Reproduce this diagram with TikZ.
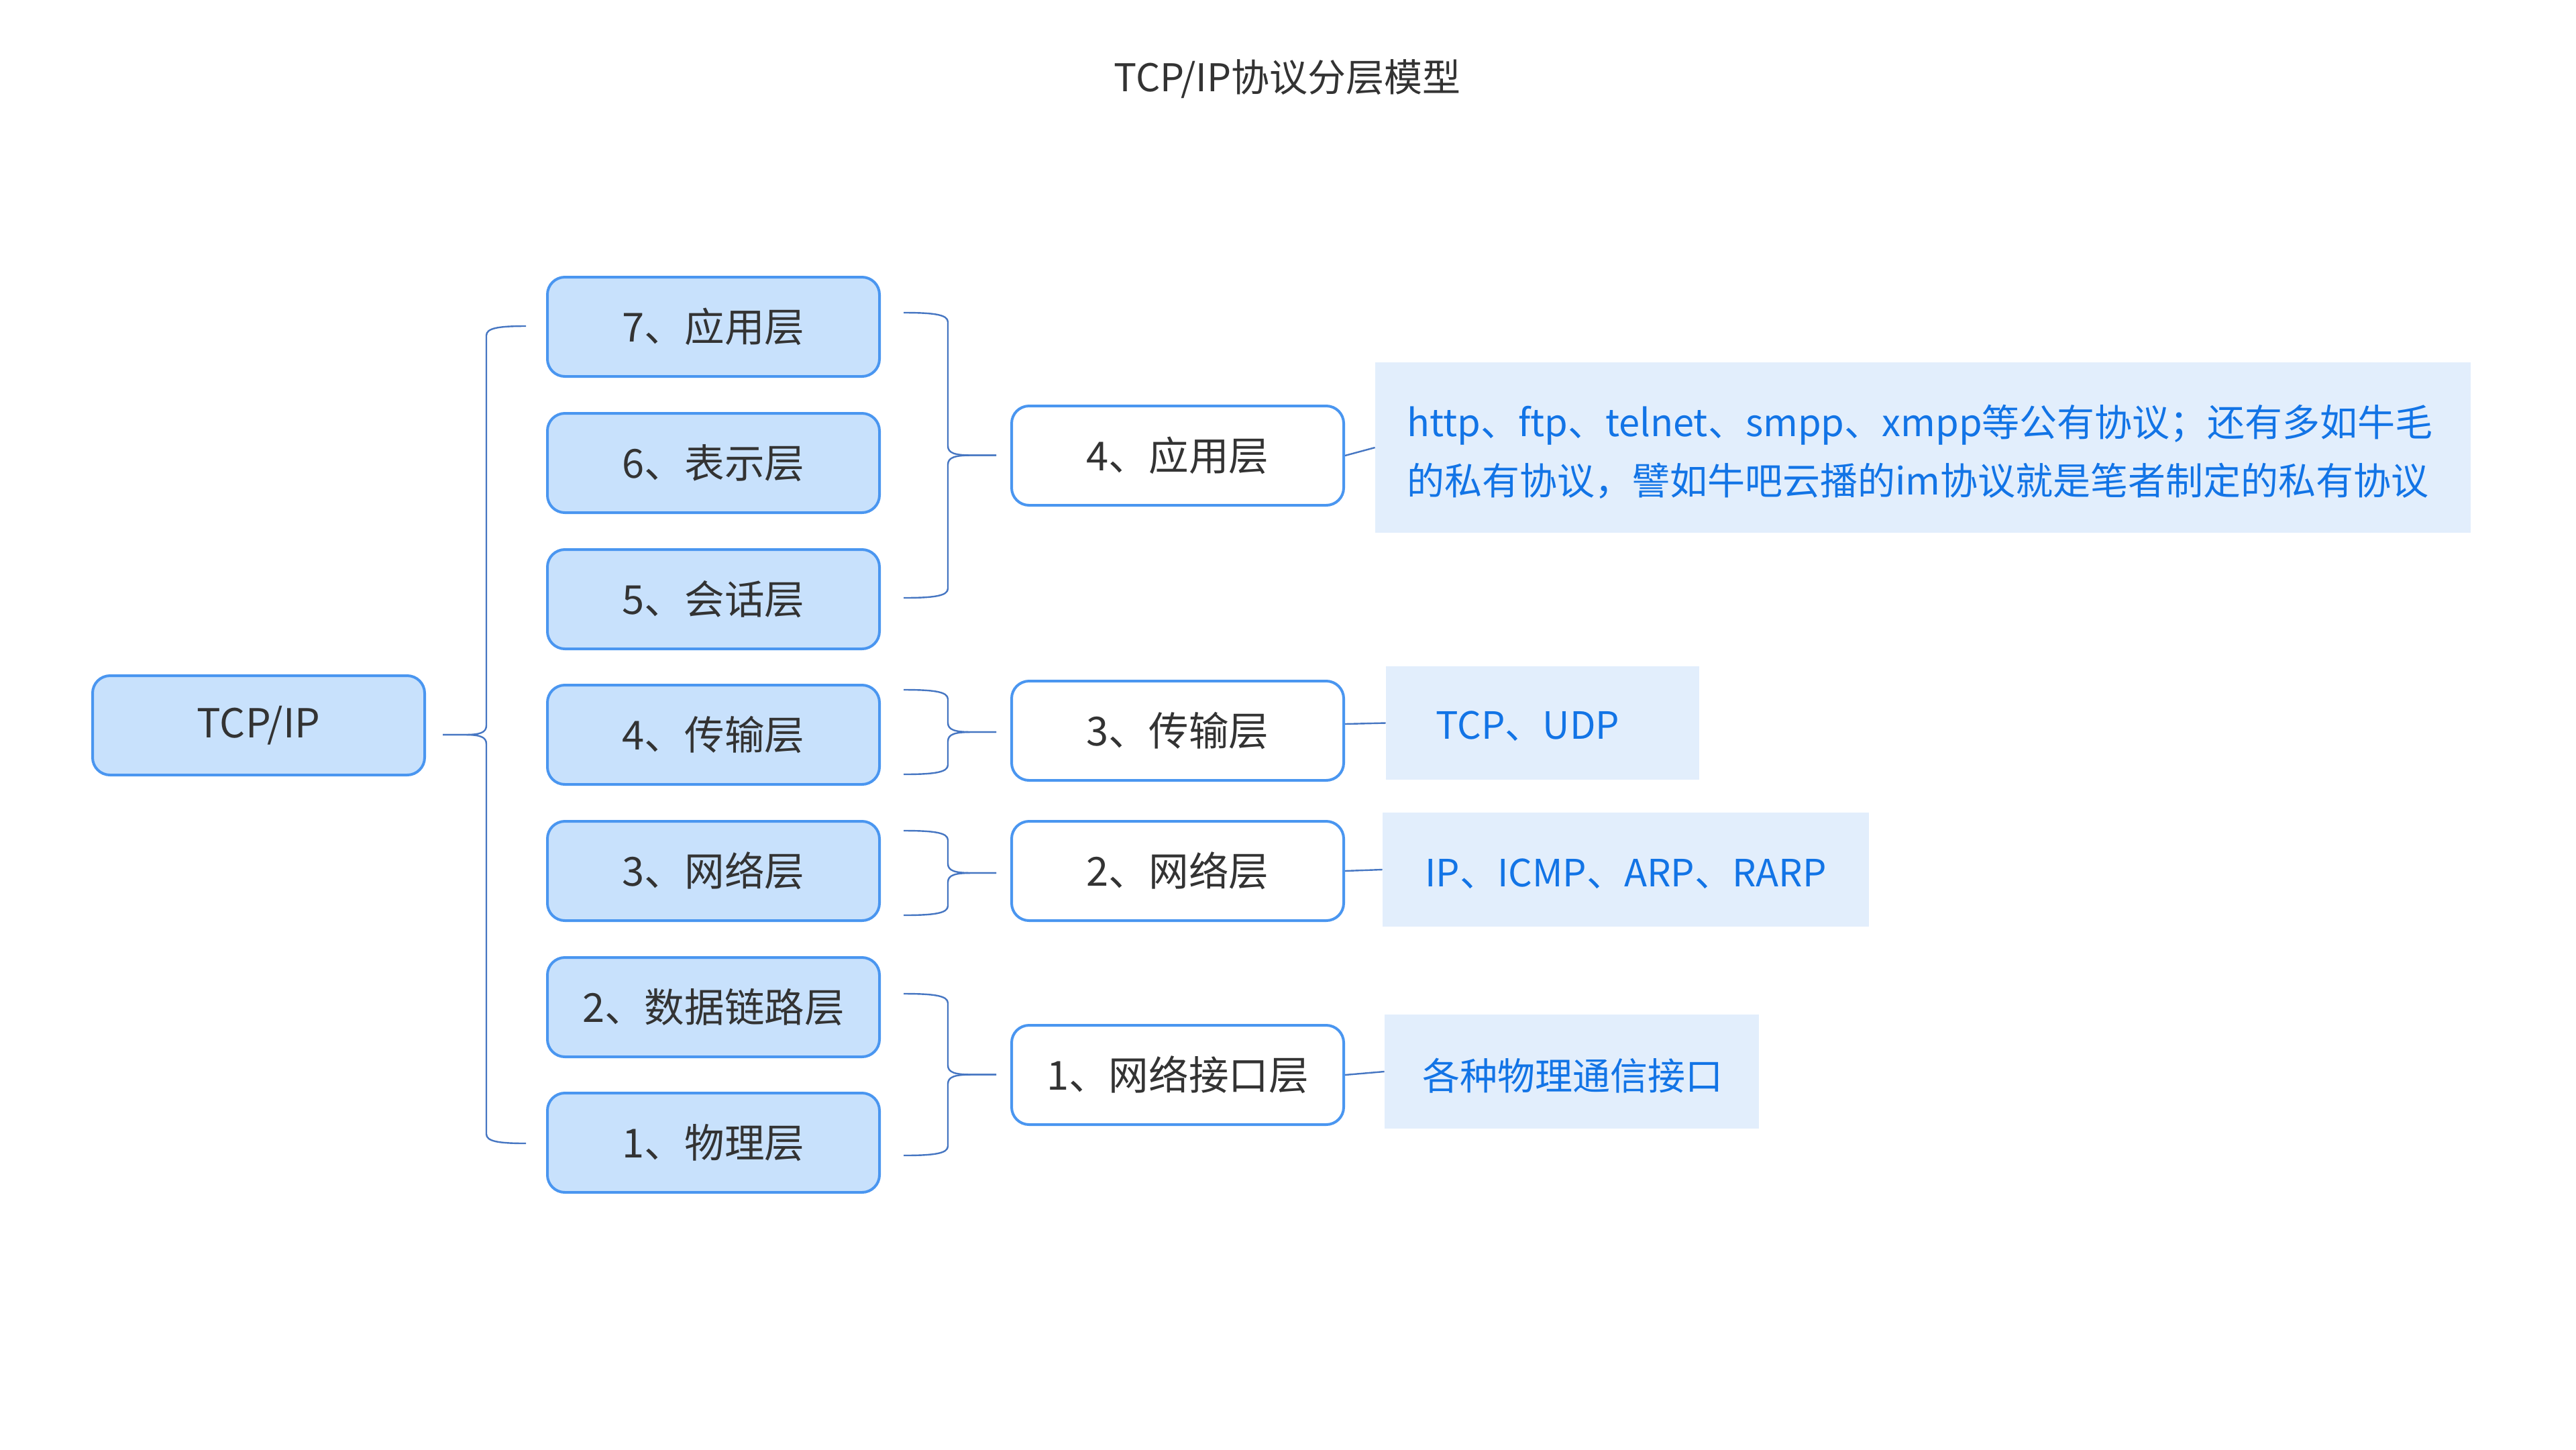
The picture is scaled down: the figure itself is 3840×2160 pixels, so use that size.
\documentclass[tikz,border=0pt]{standalone}
\usepackage{fontspec}
\setmainfont{Noto Sans CJK SC}
\definecolor{lfill}{HTML}{C8E1FC}
\definecolor{bord}{HTML}{4A96F0}
\definecolor{brcol}{HTML}{4676C2}
\definecolor{txt}{HTML}{333333}
\definecolor{btxt}{HTML}{1274E6}
\definecolor{tfill}{HTML}{E2EEFC}
\tikzset{
  every node/.style={font=\fontsize{28.5}{43.5}\selectfont, text=txt},
  boxbase/.style={draw=bord, line width=2pt, rounded corners=13pt,
    minimum width=247.5pt, minimum height=74pt, inner sep=0pt,
    font=\fontsize{29.8}{36}\selectfont},
  lbox/.style={boxbase, fill=lfill},
  mbox/.style={boxbase, fill=white},
  tbox/.style={fill=tfill, inner sep=0pt},
  btext/.style={text=btxt, inner sep=0pt, anchor=west, align=left,
    font=\fontsize{28}{43.5}\selectfont},
  brc/.style={draw=brcol, line width=1.2pt},
  link/.style={draw=brcol, line width=1.2pt},
}
% brace: #1 end x, #2 vertical x, #3 tip x, #4 top y, #5 bottom y
\newcommand\brc[5]{%
  \draw[brc] (#3,{(#4+#5)/2}) -- ({#2+0.5*(#3-#2)},{(#4+#5)/2})
    .. controls ({#2+0.15*(#3-#2)},{(#4+#5)/2}) and (#2,{(#4+#5)/2-3}) .. (#2,{(#4+#5)/2-14})
    -- (#2,{#4+14})
    .. controls (#2,{#4+3}) and ({#1+0.7*(#2-#1)},#4) .. (#1,#4);
  \draw[brc] (#3,{(#4+#5)/2}) -- ({#2+0.5*(#3-#2)},{(#4+#5)/2})
    .. controls ({#2+0.15*(#3-#2)},{(#4+#5)/2}) and (#2,{(#4+#5)/2+3}) .. (#2,{(#4+#5)/2+14})
    -- (#2,{#5-14})
    .. controls (#2,{#5-3}) and ({#1+0.7*(#2-#1)},#5) .. (#1,#5);
}
\begin{document}
\begin{tikzpicture}[x=0.5pt,y=-0.5pt]
\useasboundingbox (0,0) rectangle (3840,2160);
\node (title) at (1919,118) {TCP/IP协议分层模型};
% root
\node[lbox] (root) at (385.5,1081) {TCP/IP};
% left column
\node[lbox] (l7) at (1063.5,487) {7、应用层};
\node[lbox] (l6) at (1063.5,690) {6、表示层};
\node[lbox] (l5) at (1063.5,893) {5、会话层};
\node[lbox] (l4) at (1063.5,1095) {4、传输层};
\node[lbox] (l3) at (1063.5,1298) {3、网络层};
\node[lbox] (l2) at (1063.5,1501) {2、数据链路层};
\node[lbox] (l1) at (1063.5,1703) {1、物理层};
% middle column
\node[mbox] (m4) at (1755.5,679) {4、应用层};
\node[mbox] (m3) at (1755.5,1089) {3、传输层};
\node[mbox] (m2) at (1755.5,1298) {2、网络层};
\node[mbox] (m1) at (1755.5,1602) {1、网络接口层};
% text boxes
\node[tbox, minimum width=816.5pt, minimum height=127pt] (tA) at (2866.5,667) {};
\node[btext] (xA) at (2097,673) {http、ftp、telnet、smpp、xmpp等公有协议；还有多如牛毛\\的私有协议，譬如牛吧云播的im协议就是笔者制定的私有协议};
\node[tbox, minimum width=233.5pt, minimum height=84.5pt] (tB) at (2299.5,1077.5) {};
\node[btext] (xB) at (2140,1082) {TCP、UDP};
\node[tbox, minimum width=362.5pt, minimum height=85pt] (tC) at (2423.5,1296) {};
\node[btext] (xC) at (2124,1302) {IP、ICMP、ARP、RARP};
\node[tbox, minimum width=279pt, minimum height=85pt] (tD) at (2343,1597) {};
\node[btext] (xD) at (2120,1603) {各种物理通信接口};
% braces
\brc{784}{725}{660}{486}{1704}
\brc{1347}{1413}{1485}{466}{891}
\brc{1347}{1413}{1485}{1028}{1154}
\brc{1347}{1413}{1485}{1238}{1364}
\brc{1347}{1413}{1485}{1481}{1722}
% links
\draw[link] (m4.east) -- (tA.west);
\draw[link] ([yshift=5pt]m3.east) -- (tB.west);
\draw[link] (m2.east) -- (tC.west);
\draw[link] (m1.east) -- (tD.west);
\end{tikzpicture}
\end{document}
